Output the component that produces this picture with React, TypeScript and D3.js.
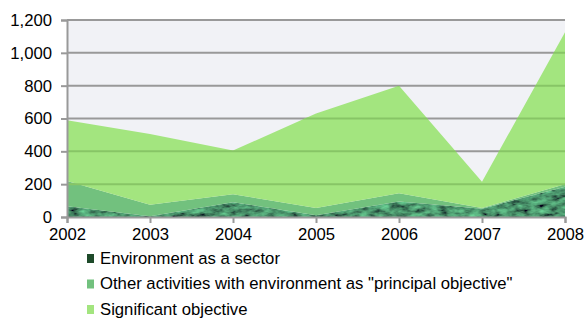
import { useEffect, useRef } from 'react';
import * as d3 from 'd3';

const years = ['2002', '2003', '2004', '2005', '2006', '2007', '2008'];
const sector = [65, 5, 90, 10, 95, 50, 185];
const principal = [155, 70, 48, 45, 50, 5, 15];
const significant = [370, 430, 267, 575, 655, 160, 925];
const yTicks = [0, 200, 400, 600, 800, 1000, 1200];

const seriesNames = [
  'Environment as a sector',
  'Other activities with environment as "principal objective"',
  'Significant objective',
];
const colors = ['#1e4a2a', '#72c17e', '#a3e57f'];
const FONT = 'Liberation Sans, Arial, sans-serif';

export default function App() {
  const svgRef = useRef<SVGSVGElement>(null);

  useEffect(() => {
    const svg = d3.select(svgRef.current);
    svg.selectAll('*').remove();

    const width = 585, height = 318;
    const M = { top: 20, right: 20, bottom: 101, left: 67 };
    const x = d3.scalePoint().domain(years).range([M.left, width - M.right]);
    const y = d3.scaleLinear().domain([0, 1200]).range([height - M.bottom, M.top]);

    const rows = years.map((yr, i) => ({ year: yr, a: sector[i], b: principal[i], c: significant[i] }));
    const stacked = d3.stack<any>().keys(['a', 'b', 'c'])(rows);

    const defs = svg.append('defs');
    // mottled texture for the sector layer
    const f = defs.append('filter').attr('id', 'marble').attr('x', 0).attr('y', 0).attr('width', 1).attr('height', 1);
    f.append('feTurbulence').attr('type', 'fractalNoise').attr('baseFrequency', '0.1 0.22').attr('numOctaves', 3).attr('seed', 4).attr('result', 'noise');
    f.append('feColorMatrix').attr('in', 'noise').attr('type', 'matrix')
      .attr('values', '0.2 0 0 0 -0.03  0.9 0 0 0 -0.15  0.4 0 0 0 -0.05  0 0 0 0 1').attr('result', 'tex');
    f.append('feComposite').attr('in', 'tex').attr('in2', 'SourceGraphic').attr('operator', 'in');

    const area = d3.area<any>()
      .x((d) => x(d.data.year)!)
      .y0((d) => y(d[0]))
      .y1((d) => y(d[1]));

    const top = stacked[stacked.length - 1];
    defs.append('clipPath').attr('id', 'fillclip')
      .append('path')
      .attr('d', d3.area<any>().x((d) => x(d.data.year)!).y0(y(0)).y1((d) => y(d[1]))(top as any));

    // plot background
    svg.append('rect')
      .attr('x', M.left).attr('y', M.top)
      .attr('width', width - M.right - M.left).attr('height', y(0) - M.top)
      .attr('fill', '#f1f2f6');

    const gridVals = yTicks.filter((t) => t > 0);
    const drawGrid = (sel: any, color: string) => {
      gridVals.forEach((t) => {
        sel.append('line')
          .attr('x1', M.left).attr('x2', width - M.right)
          .attr('y1', y(t)).attr('y2', y(t))
          .attr('stroke', color).attr('stroke-width', 2);
      });
    };
    drawGrid(svg.append('g'), '#999');

    svg.append('g').selectAll('path.layer').data(stacked).join('path')
      .attr('class', 'layer')
      .attr('d', area as any)
      .attr('fill', (_d, i) => colors[i])
      .attr('filter', (_d, i) => (i === 0 ? 'url(#marble)' : null));

    // gridlines showing through the filled areas
    drawGrid(svg.append('g').attr('clip-path', 'url(#fillclip)'), '#87c566');

    const axisStyle = (ax: any) => {
      ax.select('.domain').attr('stroke', '#999').attr('stroke-width', 2);
      ax.selectAll('.tick line').attr('stroke', '#999').attr('stroke-width', 2);
      ax.selectAll('.tick text').attr('fill', '#000').attr('font-size', 16.7).attr('font-family', FONT);
    };
    svg.append('g')
      .attr('transform', `translate(0,${y(0)})`)
      .call(d3.axisBottom(x).tickSizeOuter(0).tickSize(6).tickPadding(5))
      .call(axisStyle);
    svg.append('g')
      .attr('transform', `translate(${M.left},0)`)
      .call(d3.axisLeft(y).tickValues(yTicks).tickFormat(d3.format(',')).tickSizeOuter(0).tickSize(6).tickPadding(9))
      .call(axisStyle);

    // legend
    const lg = svg.append('g').attr('transform', 'translate(87,258)');
    seriesNames.forEach((name, i) => {
      const row = lg.append('g').attr('transform', `translate(0,${i * 25.5})`);
      row.append('rect').attr('x', 0).attr('y', -4).attr('width', 7).attr('height', 9).attr('fill', colors[i]);
      row.append('text').attr('x', 13).attr('y', 0).attr('dy', '0.35em')
        .attr('font-size', 16.7).attr('font-family', FONT).attr('fill', '#000')
        .text(name);
    });
  }, []);

  return <svg ref={svgRef} width={585} height={318} style={{ position: 'absolute', left: 0, top: 0 }} />;
}
